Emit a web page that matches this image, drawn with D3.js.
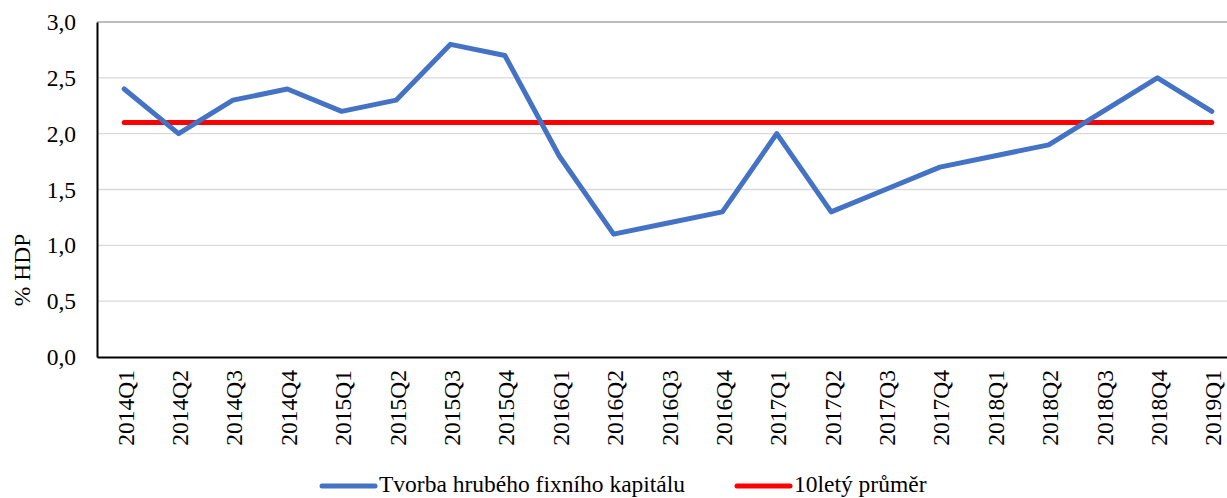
<!DOCTYPE html>
<html>
<head>
<meta charset="utf-8">
<script src="https://cdn.jsdelivr.net/npm/d3@7"></script>
<style>
  body { margin: 0; background: #fff; }
  svg { font-family: "Liberation Serif", "Times New Roman", serif; }
</style>
</head>
<body>
<svg id="chart" width="1227" height="498"></svg>
<script>
const quarters = ['2014Q1','2014Q2','2014Q3','2014Q4','2015Q1','2015Q2','2015Q3','2015Q4',
  '2016Q1','2016Q2','2016Q3','2016Q4','2017Q1','2017Q2','2017Q3','2017Q4',
  '2018Q1','2018Q2','2018Q3','2018Q4','2019Q1']
const gfcf = [2.4, 2.0, 2.3, 2.4, 2.2, 2.3, 2.8, 2.7, 1.8, 1.1, 1.2, 1.3, 2.0, 1.3, 1.5, 1.7, 1.8, 1.9, 2.2, 2.5, 2.2]
const avg10 = quarters.map(() => 2.1)
const yTicks = [0, 0.5, 1.0, 1.5, 2.0, 2.5, 3.0]

const svg = d3.select('#chart')
const plotLeft = 97, plotRight = 1239, plotTop = 22, plotBottom = 357
const fs = 23.5

const x = d3.scalePoint().domain(quarters).range([plotLeft, plotRight]).padding(0.5)
const y = d3.scaleLinear().domain([0, 3]).range([plotBottom, plotTop])
const fmt = d => d3.format('.1f')(d).replace('.', ',')

// gridlines
svg.append('g').selectAll('line').data(yTicks.filter(d => d > 0)).enter().append('line')
  .attr('x1', plotLeft).attr('x2', plotRight)
  .attr('y1', d => y(d)).attr('y2', d => y(d))
  .attr('stroke', d => d === 3 ? '#a6a6a6' : '#d9d9d9')
  .attr('stroke-width', d => d === 3 ? 1.5 : 1.3)

// y axis
const yAxis = svg.append('g').attr('transform', `translate(${plotLeft},0)`)
  .call(d3.axisLeft(y).tickValues(yTicks).tickFormat(fmt).tickSize(0).tickPadding(21))
yAxis.select('.domain').attr('stroke', '#000').attr('stroke-width', 2)
yAxis.selectAll('text').attr('font-size', fs).attr('fill', '#000').attr('font-family', 'Liberation Serif')

// x axis
const xAxis = svg.append('g').attr('transform', `translate(0,${plotBottom})`)
  .call(d3.axisBottom(x).tickSize(0).tickPadding(0))
xAxis.select('.domain').attr('stroke', '#000').attr('stroke-width', 2)
xAxis.selectAll('text')
  .attr('font-size', fs).attr('fill', '#000').attr('font-family', 'Liberation Serif')
  .attr('text-anchor', 'end').attr('dy', null).attr('y', 0)
  .attr('transform', 'translate(9,13) rotate(-90)')

// y label
svg.append('text').attr('transform', 'translate(30,270) rotate(-90)')
  .attr('text-anchor', 'middle').attr('font-size', fs).text('% HDP')

const line = d3.line().x((d, i) => x(quarters[i])).y(d => y(d))

svg.append('path').datum(avg10).attr('d', line)
  .attr('fill', 'none').attr('stroke', '#ff0000').attr('stroke-width', 5).attr('stroke-linecap', 'round')

svg.append('path').datum(gfcf).attr('d', line)
  .attr('fill', 'none').attr('stroke', '#4472c4').attr('stroke-width', 5)
  .attr('stroke-linecap', 'round').attr('stroke-linejoin', 'round')

// legend
const legend = [
  { name: 'Tvorba hrubého fixního kapitálu', color: '#4472c4', x: 322 },
  { name: '10letý průměr', color: '#ff0000', x: 737 }
]
const lg = svg.append('g').selectAll('g').data(legend).enter().append('g')
  .attr('transform', d => `translate(${d.x},486)`)
lg.append('line').attr('x1', 0).attr('x2', 53).attr('stroke', d => d.color)
  .attr('stroke-width', 5).attr('stroke-linecap', 'round')
lg.append('text').attr('x', 57).attr('y', 6).attr('font-size', fs).text(d => d.name)
</script>
</body>
</html>
